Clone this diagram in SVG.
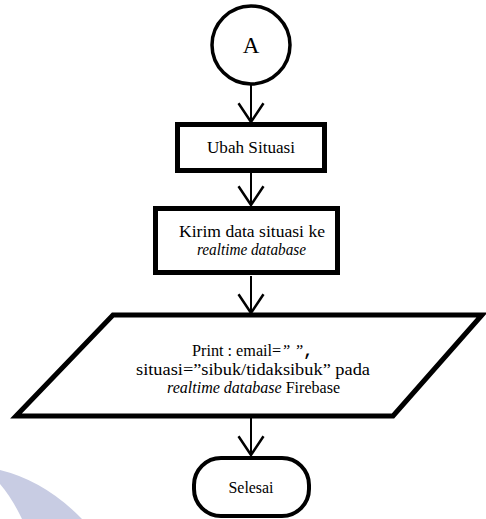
<svg xmlns="http://www.w3.org/2000/svg" width="486" height="519" viewBox="0 0 486 519">
  <style>
    .shape { fill: #ffffff; stroke: #000000; }
    .lbl { font-family: 'Liberation Serif', 'Times New Roman', serif; font-size: 16px; fill: #000000; text-anchor: middle; }
    .it { font-style: italic; }
    .conn { stroke: #000000; stroke-width: 2; fill: none; }
  </style>
  <defs>
    <marker id="arrow" markerUnits="userSpaceOnUse" markerWidth="30" markerHeight="30" refX="0" refY="0" viewBox="-16 -12 18 24" orient="auto" overflow="visible">
      <path d="M-15,-10 L0,0 L-15,10" fill="none" stroke="#000000" stroke-width="2"/>
    </marker>
  </defs>
  <rect x="0" y="0" width="486" height="519" fill="#ffffff"/>
  <path d="M0,470 Q45,481 82,519 L22,519 Q12,498 0,484 Z" fill="#c8cce3"/>
  <g id="connectors">
    <line class="conn" x1="251" y1="85" x2="251" y2="122" marker-end="url(#arrow)"/>
    <line class="conn" x1="251" y1="173" x2="251" y2="205" marker-end="url(#arrow)"/>
    <line class="conn" x1="251" y1="276" x2="251" y2="313" marker-end="url(#arrow)"/>
    <line class="conn" x1="251" y1="418" x2="251" y2="455" marker-end="url(#arrow)"/>
  </g>
  <g id="start">
    <circle class="shape" cx="251" cy="45" r="39" stroke-width="3.5"/>
    <text class="lbl" x="251" y="53" style="font-size:23px">A</text>
  </g>
  <g id="ubah">
    <rect class="shape" x="177.5" y="124.5" width="147" height="46" stroke-width="5"/>
    <text class="lbl" x="251" y="153" textLength="88" lengthAdjust="spacingAndGlyphs">Ubah Situasi</text>
  </g>
  <g id="kirim">
    <rect class="shape" x="155.5" y="208.5" width="182" height="64" stroke-width="5"/>
    <text class="lbl" x="252" y="237" textLength="146" lengthAdjust="spacingAndGlyphs">Kirim data situasi ke</text>
    <text class="lbl it" x="251.5" y="255" textLength="109" lengthAdjust="spacingAndGlyphs">realtime database</text>
  </g>
  <g id="print">
    <polygon class="shape" points="113,315 482,315 393,416 16,416" stroke-width="5" stroke-linejoin="miter"/>
    <text class="lbl" x="252.5" y="356" textLength="121" lengthAdjust="spacingAndGlyphs">Print : email=<tspan class="it">” ”</tspan><tspan style="font-family:'Liberation Mono',monospace;font-weight:bold">,</tspan></text>
    <text class="lbl" x="253" y="375" textLength="234" lengthAdjust="spacingAndGlyphs">situasi=”sibuk/tidaksibuk” pada</text>
    <text class="lbl" x="253.5" y="393" textLength="173" lengthAdjust="spacingAndGlyphs"><tspan class="it">realtime database</tspan> Firebase</text>
  </g>
  <g id="selesai">
    <rect class="shape" x="194" y="458" width="115" height="58" rx="27" ry="27" stroke-width="4"/>
    <text class="lbl" x="251" y="493" textLength="45" lengthAdjust="spacingAndGlyphs">Selesai</text>
  </g>
</svg>
